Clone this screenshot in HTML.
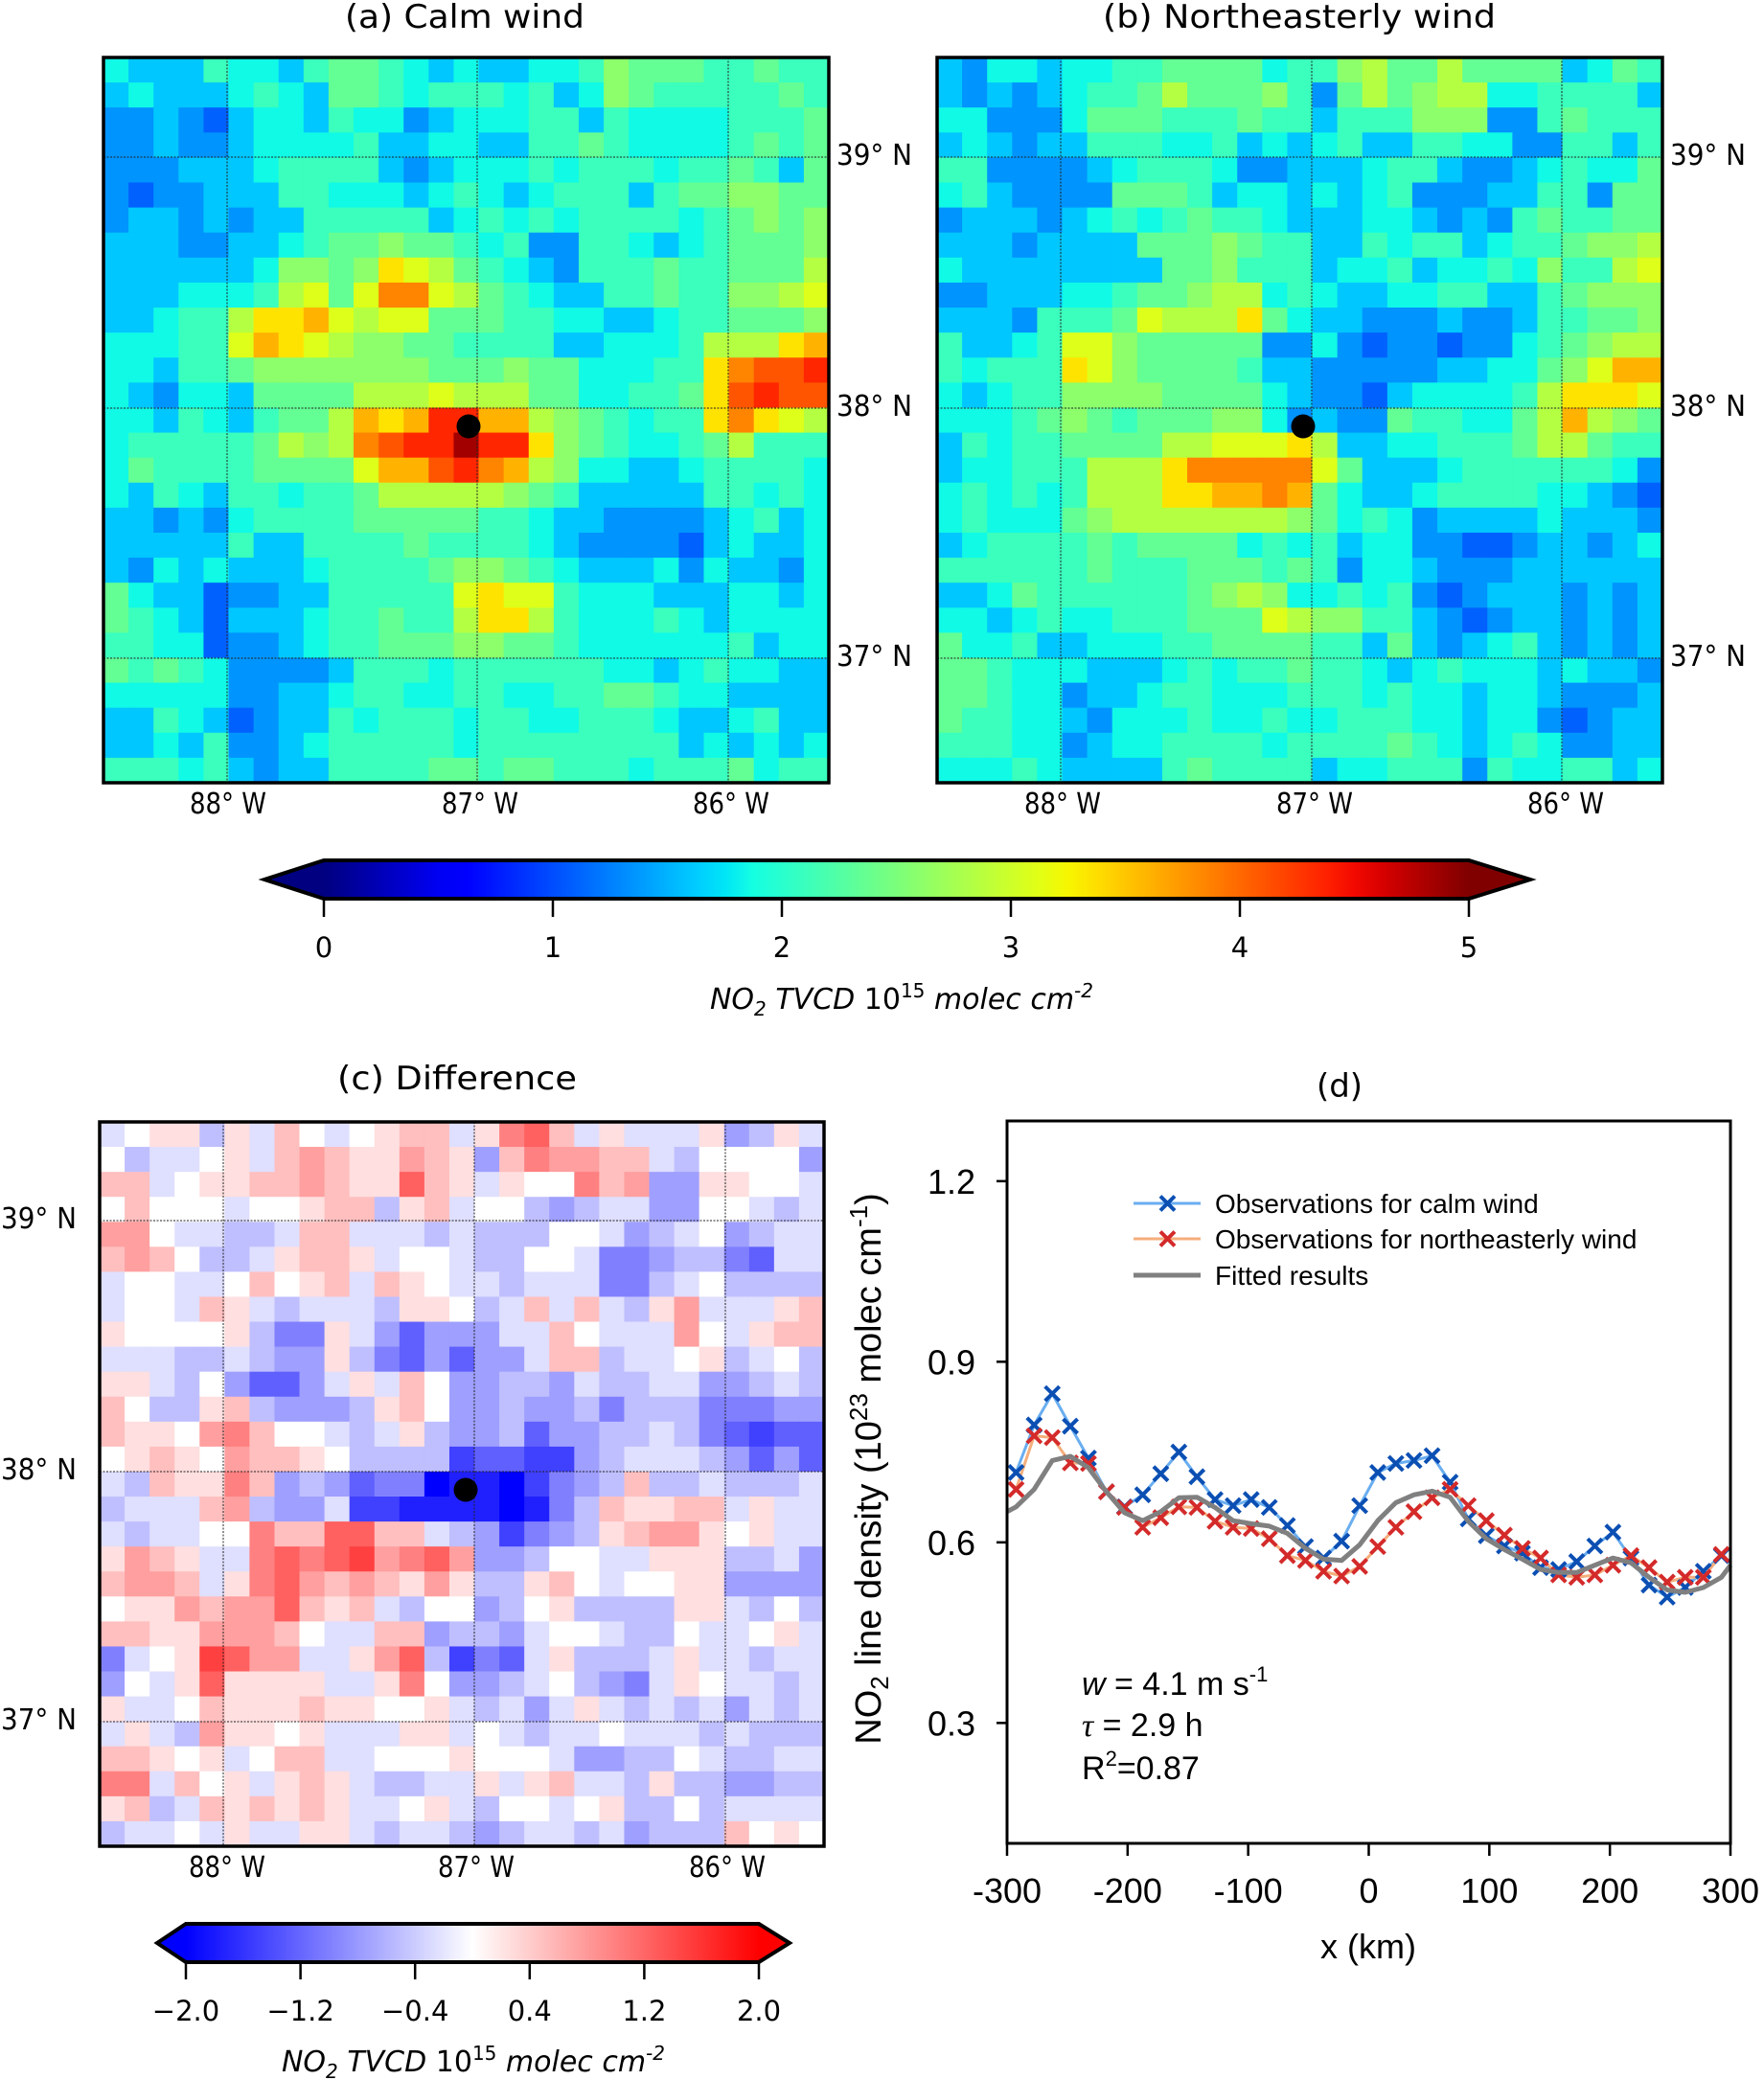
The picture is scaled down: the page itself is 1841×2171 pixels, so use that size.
<!DOCTYPE html>
<html><head><meta charset="utf-8">
<style>
html,body{margin:0;padding:0;background:#fff;}
svg{display:block;}
.dv{font-family:"DejaVu Sans","Liberation Sans",sans-serif;fill:#000;}
.ls{font-family:"Liberation Sans",sans-serif;fill:#000;}
</style></head>
<body>
<svg id="fig" xmlns="http://www.w3.org/2000/svg" width="1841" height="2171" viewBox="0 0 1841 2171">
<defs>
<linearGradient id="jetGrad" x1="0" x2="1" y1="0" y2="0"></linearGradient>
<linearGradient id="bwrGrad" x1="0" x2="1" y1="0" y2="0">
<stop offset="0" stop-color="#0000ff"/><stop offset="0.5" stop-color="#ffffff"/><stop offset="1" stop-color="#ff0000"/>
</linearGradient>
</defs>
<g id="layer"></g>
</svg>
<script>
// ---- heatmap data (a): char -> value = 1.1 + hex*0.25 (1e15 molec cm-2)
const calmRows = [
"32224 33245 54323 22334 65554 4544","23222 34325 54344 43423 65444 4454","11210 23324 33123 33442 43333 4445",
"11211 23333 42233 22445 43333 4545","11122 23444 42123 33434 44344 5425","10112 22443 33234 32344 42455 6655",
"12212 12244 44423 43434 44434 5656","22211 22345 56554 34114 43234 5556","22222 23665 69875 43214 44544 5557",
"22233 34785 8bb87 54322 44544 6678","22344 799a8 78855 54433 22344 5556","33344 8a987 66554 44422 33347 779a",
"33244 56666 66655 56553 33449 bccd","32133 25555 77787 77553 34459 cdcc","33243 24557 a9add aa765 43449 b987",
"34444 45767 bcddf dd965 43345 7444","35444 45555 8aacd ba763 32234 4443","32432 44344 57777 76542 22224 4343",
"22121 34444 55555 44322 11112 3423","22222 42244 44544 44321 11102 3223","21323 22234 44456 65432 22313 2213",
"53220 11224 44448 98843 33222 3323","54320 22234 45447 99743 33432 3333","44330 11234 45556 65543 33333 4233",
"54543 11112 44434 44444 33234 3322","33333 11223 44334 43344 55433 2222","22432 01224 34443 44334 44322 3422",
"22324 11234 44443 44444 44423 2323","44434 21224 44455 45544 43444 5344"];
// ---- heatmap data (b)
const neRows = [
"21332 33445 55534 46755 75555 2354","21212 34457 55564 15756 77334 4442","33111 35554 44544 24446 66114 5444",
"23212 24443 34232 34224 43311 4424","44111 12344 43112 22344 21123 4335","34211 11555 42332 32341 11224 4155",
"12221 23434 54432 22332 12145 4455","22212 22255 56544 22434 42344 5667","32222 22225 56444 23342 33436 4478",
"11222 33455 67734 32233 44224 5666","22214 44587 77953 22111 21124 4556","42234 88655 55511 31011 01134 5677",
"43444 98655 55422 11111 22335 68aa","32344 66665 55532 11023 33347 9998","33345 65455 56631 21154 43357 a765",
"24344 55557 78889 72233 44457 7544","23344 47779 bbbbb 85222 34444 4431","34343 47779 9aaba 53223 44443 3210",
"34333 56777 77776 53431 22223 2221","23444 45455 55343 42331 10012 2123","44444 45444 55545 41332 11122 2222",
"22354 44444 56763 34341 01222 1212","33234 33444 55587 66442 10122 1212","53342 23334 45555 44252 12342 1212",
"55433 32223 43445 44323 43332 3221","55433 12234 43334 44343 32332 1112","54433 21333 43343 34443 32331 0122",
"44433 12334 44434 44454 32343 1122","33343 22224 54444 23344 41433 4423"];
// ---- heatmap data (c): char -> value = (code - 'i')*0.25
const diffRows = [
"hijjg jhkih ijkkh jmnkh jhhhj fgjh","ighhi jhklk jjlkj fkmll kkhgi iiif","kkhij jkklk jjnkj hjiim klffj jiih",
"ikiii hiijk kgjkh iigfg hhffi ihgh","llihh gghkk hhhgh gggii hfghi fghh","klkig ghjkk jhiih ggiih eefgg edhh",
"hiihh ikijk hkjih hghhh eeghi gggg","hiihk jhghh hgjji ghkhk hgjlh hhjk","jiiii jgeej hfdff fhhki hhhli hjkk",
"hhhgg hgffj gedfd ffhkk ghhij ghig","jjhgi fddfh jhkif fggfh gghhf fghg","kiggj kgfff gjkif fgffg eggge eeff",
"kjjil mkiih ghjgf fgdff gghge dcdd","ijkji lkkji ggggc ddccf ghhhg fdfd","hgkjj mkfgf deeab bacef gkggh gggh",
"ghhhk lgffh ccbbb babeg kjjkk hjhh","hghhi imkkn nkkhg fcefg jkllj ijhh","jlkjh hmnmn olmnl ffgii hhjjj gghf",
"kllkh jmnlk lkjlj ggjki hiijj ffff","ijjlk llnkj khgii fgijg gggjj hgig","kkjjl llkih hkkfg gfhii hggih hijh",
"ehijo nllhh jlngc edhjg gghjh hghh","fihjn jjjjh hjmif fghig fehji hhgh","jhhik jjjkj jiijh ghfhj hghgh fhgh",
"hjhgl jjijh hhjjh ihghh ihhhg hggg","kkjij hikkh hiiij iiihf fggih gghh","mmhki jhjkj hgghh jhjkh hgjgg ffgg",
"jkghk jkjkj hhijh giihi jggig hhhh","ghhih jhhjj hghhg fghhg hfggg kiji"];

// ---- line chart (d) data
const xKm = [];
for (let i = 0; i < 40; i++) xKm.push(-292.5 + 15 * i);
const calmObs = [0.716,0.795,0.847,0.793,0.740,0.684,0.659,0.679,0.714,0.750,0.709,0.671,0.661,0.671,0.658,0.628,0.593,0.574,0.602,0.661,
0.716,0.731,0.736,0.744,0.700,0.639,0.611,0.594,0.582,0.558,0.555,0.568,0.594,0.617,0.574,0.529,0.509,0.525,0.552,0.578];
const neObs = [0.688,0.777,0.774,0.732,0.731,0.684,0.658,0.625,0.641,0.659,0.658,0.635,0.625,0.623,0.606,0.578,0.570,0.552,0.544,0.560,
0.593,0.625,0.651,0.674,0.688,0.661,0.636,0.612,0.590,0.574,0.546,0.542,0.546,0.562,0.578,0.558,0.534,0.542,0.542,0.580];
const fitX = [-300].concat(xKm).concat([300]);
const fitVals = [0.651,0.659,0.688,0.736,0.743,0.724,0.684,0.649,0.636,0.651,0.674,0.675,0.658,0.636,0.631,0.627,0.615,0.590,0.572,0.570,0.596,
0.636,0.666,0.679,0.685,0.675,0.635,0.606,0.588,0.572,0.555,0.550,0.550,0.562,0.574,0.566,0.542,0.521,0.517,0.525,0.542,0.562];
const xTicks = [-300,-200,-100,0,100,200,300];
const yTicks = [0.3,0.6,0.9,1.2];
const yTickLabels = ["0.3","0.6","0.9","1.2"];
const jetTicks = [0,1,2,3,4,5];
const bwrTicks = [-2.0,-1.2,-0.4,0.4,1.2,2.0];
const bwrTickLabels = ["\u22122.0","\u22121.2","\u22120.4","0.4","1.2","2.0"];

const NS = "http://www.w3.org/2000/svg";
const layer = document.getElementById('layer');
function el(tag, attrs, parent) {
  const e = document.createElementNS(NS, tag);
  for (const k in attrs) e.setAttribute(k, attrs[k]);
  (parent || layer).appendChild(e);
  return e;
}
function lerpTab(tab, t) {
  for (let i = 1; i < tab.length; i++) {
    if (t <= tab[i][0]) { const a = tab[i-1], b = tab[i]; return a[1] + (b[1]-a[1]) * (t - a[0]) / (b[0]-a[0]); }
  }
  return tab[tab.length-1][1];
}
function jet(t) {
  t = Math.max(0, Math.min(1, t));
  const r = lerpTab([[0,0],[0.35,0],[0.66,1],[0.89,1],[1,0.5]], t);
  const g = lerpTab([[0,0],[0.125,0],[0.375,1],[0.64,1],[0.91,0],[1,0]], t);
  const b = lerpTab([[0,0.5],[0.11,1],[0.34,1],[0.65,0],[1,0]], t);
  return `rgb(${Math.round(r*255)},${Math.round(g*255)},${Math.round(b*255)})`;
}
function bwr(v) {
  let t = Math.max(0, Math.min(1, (v + 2) / 4));
  let r, g, b;
  if (t < 0.5) { r = g = 2*t; b = 1; } else { r = 1; g = b = 2*(1-t); }
  return `rgb(${Math.round(r*255)},${Math.round(g*255)},${Math.round(b*255)})`;
}
function parseRows(rows) { return rows.map(r => r.replace(/ /g, '').split('')); }

function heatmap(name, rows, x0, y0, size, colorFn, valFn, vlines, hlines, dot) {
  const g = el('g', {});
  
  
  const grid = parseRows(rows);
  const n = grid.length, cs = size / n;
  grid.forEach((row, r) => {
    row.forEach((ch, c) => {
      const v = valFn(ch);
      const rc = el('rect', {x: (x0 + c*cs).toFixed(2), y: (y0 + r*cs).toFixed(2), width: (cs+0.6).toFixed(2), height: (cs+0.6).toFixed(2), fill: colorFn(v)}, g);
      
      
    });
  });
  vlines.forEach(x => { const l = el('line', {x1: x, x2: x, y1: y0, y2: y0+size, stroke: '#222', 'stroke-width': 1, 'stroke-dasharray': '2,1.5'}, g);
      });
  hlines.forEach(y => { const l = el('line', {x1: x0, x2: x0+size, y1: y, y2: y, stroke: '#222', 'stroke-width': 1, 'stroke-dasharray': '2,1.5'}, g);
      });
  const fr = el('rect', {x: x0, y: y0, width: size, height: size, fill: 'none', stroke: '#000', 'stroke-width': 3.5}, g);
   
  if (dot) { const d = el('circle', {cx: dot[0], cy: dot[1], r: 12.5, fill: '#000'}, g);
      }
  return g;
}
function text(str, x, y, cls, size, anchor, name, extra) {
  const t = el('text', Object.assign({x: x, y: y, class: cls, 'font-size': size, 'text-anchor': anchor || 'middle'}, extra || {}));
  t.textContent = str;
  
  
  return t;
}

const jetVal = ch => 1.1 + parseInt(ch, 16) * 0.25;
const diffVal = ch => (ch.charCodeAt(0) - 105) * 0.25;

// Panel a
heatmap('calm-wind-map', calmRows, 108, 60, 757, v => jet(v/5), jetVal, [237, 498, 760], [164, 426, 687], [489, 445]);
text('(a) Calm wind', 485, 29, 'dv', 34, 'middle', 'panel-a-title', {textLength: 250, lengthAdjust: 'spacingAndGlyphs'});
// Panel b
heatmap('northeasterly-wind-map', neRows, 978, 60, 757, v => jet(v/5), jetVal, [1107, 1369, 1630], [164, 426, 687], [1360, 445]);
text('(b) Northeasterly wind', 1356, 29, 'dv', 34, 'middle', 'panel-b-title', {textLength: 410, lengthAdjust: 'spacingAndGlyphs'});
[['39\u00b0 N',172],['38\u00b0 N',434],['37\u00b0 N',695]].forEach(([s,y]) => {
  text(s, 873, y, 'dv', 30, 'start', 'latitude-label', {textLength: 79, lengthAdjust: 'spacingAndGlyphs'});
  text(s, 1743, y, 'dv', 30, 'start', 'latitude-label', {textLength: 79, lengthAdjust: 'spacingAndGlyphs'});
});
[['88\u00b0 W',238],['87\u00b0 W',501],['86\u00b0 W',763]].forEach(([s,x]) => {
  text(s, x, 849, 'dv', 30, 'middle', 'longitude-label', {textLength: 80, lengthAdjust: 'spacingAndGlyphs'});
  text(s, x + 871, 849, 'dv', 30, 'middle', 'longitude-label', {textLength: 80, lengthAdjust: 'spacingAndGlyphs'});
});

// Jet colorbar
(function(){
  const grad = document.getElementById('jetGrad');
  for (let i = 0; i <= 40; i++) { const s = document.createElementNS(NS, 'stop'); s.setAttribute('offset', i/40); s.setAttribute('stop-color', jet(i/40)); grad.appendChild(s); }
  const g = el('g', {});
   
  const x0 = 338, x1 = 1533, y0 = 898, y1 = 938, ym = 918;
  const cx = v => x0 + (x1 - x0) * v / 5;
  el('polygon', {points: `${x0},${y0} 276,${ym} ${x0},${y1}`, fill: jet(0)}, g);
  el('polygon', {points: `${x1},${y0} 1597,${ym} ${x1},${y1}`, fill: jet(1)}, g);
  el('rect', {x: x0, y: y0, width: x1-x0, height: y1-y0, fill: 'url(#jetGrad)'}, g);
  el('polygon', {points: `${x0},${y0} ${x1},${y0} 1597,${ym} ${x1},${y1} ${x0},${y1} 276,${ym}`, fill: 'none', stroke: '#000', 'stroke-width': 4}, g);
  jetTicks.forEach(v => {
    el('line', {x1: cx(v), x2: cx(v), y1: y1, y2: 957, stroke: '#000', 'stroke-width': 2.5}, g);
    text(String(v), cx(v), 999, 'dv', 29, 'middle', 'colorbar-tick-label');
  });
  const t = text('', 941, 1053, 'dv', 30, 'middle', 'colorbar-title', {'font-style': 'italic'});
  t.innerHTML = 'NO<tspan font-size="20" dy="7">2</tspan><tspan dy="-7"> TVCD </tspan><tspan font-style="normal">10</tspan><tspan font-size="20" dy="-12" font-style="normal">15</tspan><tspan dy="12"> molec cm</tspan><tspan font-size="20" dy="-12">-2</tspan>';
})();

// Panel c
heatmap('difference-map', diffRows, 104, 1171, 756, bwr, diffVal, [233, 495, 757], [1274, 1536, 1797], [486, 1555]);
text('(c) Difference', 477, 1137, 'dv', 34, 'middle', 'panel-c-title', {textLength: 250, lengthAdjust: 'spacingAndGlyphs'});
[['39\u00b0 N',1282],['38\u00b0 N',1544],['37\u00b0 N',1805]].forEach(([s,y]) => {
  text(s, 80, y, 'dv', 30, 'end', 'latitude-label', {textLength: 79, lengthAdjust: 'spacingAndGlyphs'});
});
[['88\u00b0 W',237],['87\u00b0 W',497],['86\u00b0 W',759]].forEach(([s,x]) => {
  text(s, x, 1959, 'dv', 30, 'middle', 'longitude-label', {textLength: 80, lengthAdjust: 'spacingAndGlyphs'});
});
// bwr colorbar
(function(){
  const g = el('g', {});
   
  const x0 = 194, x1 = 792, y0 = 2008, y1 = 2048, ym = 2028;
  const cx = v => x0 + (x1 - x0) * (v + 2) / 4;
  el('polygon', {points: `${x0},${y0} 164,${ym} ${x0},${y1}`, fill: '#0000ff'}, g);
  el('polygon', {points: `${x1},${y0} 824,${ym} ${x1},${y1}`, fill: '#ff0000'}, g);
  el('rect', {x: x0, y: y0, width: x1-x0, height: y1-y0, fill: 'url(#bwrGrad)'}, g);
  el('polygon', {points: `${x0},${y0} ${x1},${y0} 824,${ym} ${x1},${y1} ${x0},${y1} 164,${ym}`, fill: 'none', stroke: '#000', 'stroke-width': 4}, g);
  bwrTicks.forEach((v, i) => {
    el('line', {x1: cx(v), x2: cx(v), y1: y1, y2: 2066, stroke: '#000', 'stroke-width': 2.5}, g);
    text(bwrTickLabels[i], cx(v), 2109, 'dv', 29, 'middle', 'colorbar-tick-label');
  });
  const t = text('', 494, 2162, 'dv', 30, 'middle', 'colorbar-title', {'font-style': 'italic'});
  t.innerHTML = 'NO<tspan font-size="20" dy="7">2</tspan><tspan dy="-7"> TVCD </tspan><tspan font-style="normal">10</tspan><tspan font-size="20" dy="-12" font-style="normal">15</tspan><tspan dy="12"> molec cm</tspan><tspan font-size="20" dy="-12">-2</tspan>';
})();

// Panel d
(function(){
  const L = 1051, R = 1806, T = 1170, B = 1924;
  const X = x => L + (x + 300) / 600 * (R - L);
  const Y = v => B - (v - 0.1) / 1.2 * (B - T);
  const g = el('g', {});
   
  text('(d)', 1398, 1145, 'dv', 34, 'middle', 'panel-d-title');
  function poly(xs, ys, color, w, name) {
    const p = el('polyline', {points: xs.map((x,i) => X(x).toFixed(1)+','+Y(ys[i]).toFixed(1)).join(' '), fill: 'none', stroke: color, 'stroke-width': w, 'stroke-linejoin': 'round'}, g);
     
  }
  function marks(xs, ys, color, name) {
    xs.forEach((x, i) => {
      const cx = X(x), cy = Y(ys[i]), s = 7.5;
      const m = el('path', {d: `M${cx-s},${cy-s}L${cx+s},${cy+s}M${cx-s},${cy+s}L${cx+s},${cy-s}`, stroke: color, 'stroke-width': 4, fill: 'none'}, g);
       
    });
  }
  poly(xKm, calmObs, '#6aaef0', 3, 'calm-wind-line');
  poly(xKm, neObs, '#f5ae7c', 3, 'northeasterly-wind-line');
  marks(xKm, calmObs, '#0b4fb3', 'calm-wind-marker');
  marks(xKm, neObs, '#d42a2a', 'northeasterly-wind-marker');
  poly(fitX, fitVals, '#808080', 5, 'fitted-line');
  const fr = el('rect', {x: L, y: T, width: R-L, height: B-T, fill: 'none', stroke: '#000', 'stroke-width': 3}, g);
   
  xTicks.forEach(v => {
    el('line', {x1: X(v), x2: X(v), y1: B, y2: B + 13, stroke: '#000', 'stroke-width': 2.5}, g);
    text(String(v), X(v), 1986, 'ls', 36, 'middle', 'x-tick-label');
  });
  yTicks.forEach((v, i) => {
    el('line', {x1: L - 11, x2: L, y1: Y(v), y2: Y(v), stroke: '#000', 'stroke-width': 2.5}, g);
    text(yTickLabels[i], 1018, Y(v) + 13, 'ls', 36, 'end', 'y-tick-label');
  });
  text('x (km)', 1428, 2044, 'ls', 36, 'middle', 'x-axis-title');
  const yt = text('', 0, 0, 'ls', 38, 'middle', 'y-axis-title', {transform: 'translate(919,1533) rotate(-90)'});
  yt.innerHTML = 'NO<tspan font-size="26" dy="8">2</tspan><tspan dy="-8"> line density (10</tspan><tspan font-size="26" dy="-14">23</tspan><tspan dy="14"> molec cm</tspan><tspan font-size="26" dy="-14">-1</tspan><tspan dy="14">)</tspan>';
  const lg = el('g', {});
   
  [[1256,'#6aaef0','#0b4fb3','Observations for calm wind'],[1293,'#f5ae7c','#d42a2a','Observations for northeasterly wind'],[1331,'#808080',null,'Fitted results']].forEach(([y, lc, mc, s]) => {
    el('line', {x1: 1183, x2: 1253, y1: y, y2: y, stroke: lc, 'stroke-width': mc ? 3 : 5}, lg);
    if (mc) el('path', {d: `M1211,${y-7.5}L1226,${y+7.5}M1211,${y+7.5}L1226,${y-7.5}`, stroke: mc, 'stroke-width': 4}, lg);
    text(s, 1268, y + 10, 'ls', 28, 'start', 'legend-entry');
  });
  const a1 = text('', 1129, 1769, 'ls', 34, 'start', 'wind-speed-annotation');
  a1.innerHTML = '<tspan font-style="italic">w</tspan> = 4.1 m s<tspan font-size="22" dy="-14">-1</tspan>';
  const a2 = text('', 1129, 1812, 'ls', 34, 'start', 'lifetime-annotation');
  a2.innerHTML = '<tspan font-style="italic" font-family="Liberation Serif">\u03c4</tspan> = 2.9 h';
  const a3 = text('', 1129, 1857, 'ls', 34, 'start', 'r-squared-annotation');
  a3.innerHTML = 'R<tspan font-size="22" dy="-14">2</tspan><tspan dy="14">=0.87</tspan>';
})();
</script>
</body></html>
